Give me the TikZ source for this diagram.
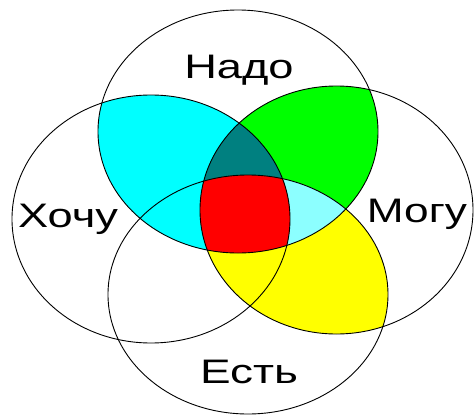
\documentclass[tikz,border=0pt]{standalone}
\usepackage{fontspec}
\setmainfont{Liberation Sans}
\definecolor{cCyan}{RGB}{0,255,255}
\definecolor{cLCyan}{RGB}{140,255,255}
\definecolor{cGreen}{RGB}{0,255,0}
\definecolor{cYellow}{RGB}{255,255,0}
\definecolor{cTeal}{RGB}{0,128,128}
\definecolor{cRed}{RGB}{255,0,0}
\tikzset{
  eT/.style={x radius=140pt,y radius=121.5pt},
  eL/.style={x radius=139pt,y radius=124pt},
  eR/.style={x radius=136.5pt,y radius=124pt},
  eB/.style={x radius=140pt,y radius=119.5pt},
  ring/.style={draw=black,line width=0.9pt},
  lab/.style={anchor=base,inner sep=0pt,font=\fontsize{34}{40}\selectfont}
}
\begin{document}
\begin{tikzpicture}[x=1pt,y=-1pt]
\useasboundingbox (0,0) rectangle (475,418);
\fill[white] (0,0) rectangle (475,418);
\coordinate (cT) at (238,131.5);
\coordinate (cL) at (151,219);
\coordinate (cR) at (336.5,210);
\coordinate (cB) at (248,294.5);
% T & L
\begin{scope}\clip (cT) ellipse [eT]; \fill[cCyan] (cL) ellipse [eL];\end{scope}
% T & R
\begin{scope}\clip (cT) ellipse [eT]; \fill[cGreen] (cR) ellipse [eR];\end{scope}
% R & B
\begin{scope}\clip (cR) ellipse [eR]; \fill[cYellow] (cB) ellipse [eB];\end{scope}
% T & R & B
\begin{scope}\clip (cT) ellipse [eT]; \clip (cR) ellipse [eR]; \fill[cLCyan] (cB) ellipse [eB];\end{scope}
% T & L & B
\begin{scope}\clip (cT) ellipse [eT]; \clip (cL) ellipse [eL]; \fill[cCyan] (cB) ellipse [eB];\end{scope}
% T & L & R
\begin{scope}\clip (cT) ellipse [eT]; \clip (cL) ellipse [eL]; \fill[cTeal] (cR) ellipse [eR];\end{scope}
% L & R & B
\begin{scope}\clip (cL) ellipse [eL]; \clip (cR) ellipse [eR]; \fill[cYellow] (cB) ellipse [eB];\end{scope}
% all four
\begin{scope}\clip (cT) ellipse [eT]; \clip (cL) ellipse [eL]; \clip (cR) ellipse [eR]; \fill[cRed] (cB) ellipse [eB];\end{scope}
% outlines
\draw[ring] (cT) ellipse [eT];
\draw[ring] (cL) ellipse [eL];
\draw[ring] (cR) ellipse [eR];
\draw[ring] (cB) ellipse [eB];
% labels
\node[lab] (nado) at (239,78) {\scalebox{1.33}[1]{Надо}};
\node[lab] (hochu) at (68,227) {\scalebox{1.33}[1]{Хочу}};
\node[lab] (mogu) at (417,222) {\scalebox{1.3}[1]{Могу}};
\node[lab] (est) at (249,383) {\scalebox{1.35}[1]{Есть}};
\end{tikzpicture}
\end{document}
